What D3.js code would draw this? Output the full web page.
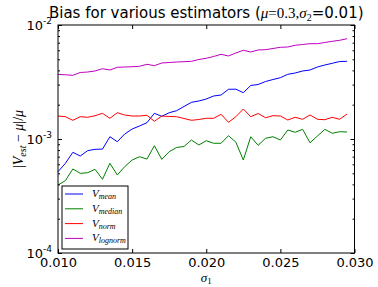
<!DOCTYPE html>
<html>
<head>
<meta charset="utf-8">
<script src="https://cdn.jsdelivr.net/npm/d3@7"></script>
<style>
  body { margin: 0; background: #fff; }
  svg { display: block; }
  text { font-family: "DejaVu Sans", sans-serif; }
  .math { font-family: "Liberation Serif", "DejaVu Serif", serif; }
</style>
</head>
<body>
<div id="chart"></div>
<script>
// sigma_1 values (x axis)
const sigma1 = [0.0100, 0.0105, 0.0110, 0.0115, 0.0120, 0.0125, 0.0130, 0.0135, 0.0140, 0.0145,
                0.0150, 0.0155, 0.0160, 0.0165, 0.0170, 0.0175, 0.0180, 0.0185, 0.0190, 0.0195,
                0.0200, 0.0205, 0.0210, 0.0215, 0.0220, 0.0225, 0.0230, 0.0235, 0.0240, 0.0245,
                0.0250, 0.0255, 0.0260, 0.0265, 0.0270, 0.0275, 0.0280, 0.0285, 0.0290, 0.0295];

// relative bias |V_est - mu| / mu for each estimator
const vMean = [5.17e-4, 6.12e-4, 7.64e-4, 7.09e-4, 7.90e-4, 8.12e-4, 8.15e-4, 1.047e-3, 9.47e-4, 1.106e-3,
               1.224e-3, 1.300e-3, 1.390e-3, 1.680e-3, 1.582e-3, 1.700e-3, 1.771e-3, 1.928e-3, 2.098e-3, 2.154e-3,
               2.243e-3, 2.384e-3, 2.432e-3, 2.729e-3, 2.735e-3, 2.548e-3, 2.947e-3, 3.007e-3, 3.193e-3, 3.325e-3,
               3.448e-3, 3.693e-3, 3.793e-3, 3.949e-3, 4.030e-3, 4.281e-3, 4.458e-3, 4.613e-3, 4.784e-3, 4.804e-3];

const vMedian = [3.95e-4, 4.31e-4, 5.46e-4, 5.00e-4, 5.06e-4, 5.42e-4, 4.43e-4, 6.12e-4, 4.83e-4, 5.72e-4,
                 6.54e-4, 6.99e-4, 6.67e-4, 8.73e-4, 6.63e-4, 7.74e-4, 8.42e-4, 8.60e-4, 9.80e-4, 8.86e-4,
                 9.66e-4, 9.17e-4, 9.17e-4, 1.069e-3, 9.36e-4, 6.54e-4, 1.047e-3, 8.80e-4, 1.014e-3, 1.047e-3,
                 9.80e-4, 1.199e-3, 1.145e-3, 1.216e-3, 9.28e-4, 1.062e-3, 1.216e-3, 1.122e-3, 1.159e-3, 1.152e-3];

const vNorm = [1.591e-3, 1.569e-3, 1.459e-3, 1.569e-3, 1.550e-3, 1.601e-3, 1.680e-3, 1.519e-3, 1.701e-3, 1.624e-3,
               1.591e-3, 1.591e-3, 1.614e-3, 1.430e-3, 1.591e-3, 1.576e-3, 1.569e-3, 1.513e-3, 1.459e-3, 1.483e-3,
               1.519e-3, 1.519e-3, 1.647e-3, 1.401e-3, 1.569e-3, 1.833e-3, 1.569e-3, 1.674e-3, 1.537e-3, 1.601e-3,
               1.591e-3, 1.468e-3, 1.550e-3, 1.489e-3, 1.624e-3, 1.489e-3, 1.477e-3, 1.550e-3, 1.489e-3, 1.657e-3];

const vLognorm = [3.693e-3, 3.657e-3, 3.620e-3, 3.831e-3, 3.870e-3, 3.949e-3, 4.137e-3, 4.030e-3, 4.255e-3, 4.281e-3,
                  4.307e-3, 4.342e-3, 4.521e-3, 4.395e-3, 4.642e-3, 4.689e-3, 4.736e-3, 4.765e-3, 4.804e-3, 4.982e-3,
                  5.104e-3, 5.293e-3, 5.534e-3, 5.347e-3, 5.681e-3, 6.000e-3, 5.797e-3, 6.036e-3, 6.073e-3, 6.222e-3,
                  6.374e-3, 6.412e-3, 6.636e-3, 6.744e-3, 6.855e-3, 6.855e-3, 7.023e-3, 7.195e-3, 7.342e-3, 7.583e-3];

const seriesNames = ["mean", "median", "norm", "lognorm"];
const seriesColors = ["#0000ff", "#008000", "#ff0000", "#bf00bf"];
const seriesValues = [vMean, vMedian, vNorm, vLognorm];

const xTicks = [0.010, 0.015, 0.020, 0.025, 0.030];
const yTicks = [1e-4, 1e-3, 1e-2];

const width = 378;
const height = 287;
const margin = { top: 25, right: 23.5, bottom: 34, left: 58 };

const svg = d3.select("#chart")
  .append("svg")
  .attr("width", width)
  .attr("height", height);

svg.append("rect").attr("width", width).attr("height", height).attr("fill", "#fff");

const x = d3.scaleLinear()
  .domain([0.010, 0.030])
  .range([margin.left, width - margin.right]);

const y = d3.scaleLog()
  .domain([1e-4, 1e-2])
  .range([height - margin.bottom, margin.top]);

const plotW = width - margin.left - margin.right;
const plotH = height - margin.top - margin.bottom;

// minor ticks on the log axis
const minorTicks = y.ticks().filter(t => !yTicks.some(m => Math.abs(m - t) / m < 1e-6));

// lines
const line = d3.line()
  .x((d, i) => x(sigma1[i]))
  .y(d => y(d));

svg.append("g")
  .selectAll("path")
  .data(seriesValues)
  .enter().append("path")
  .attr("d", d => line(d))
  .attr("fill", "none")
  .attr("stroke", (d, i) => seriesColors[i])
  .attr("stroke-width", 1);

// axes - ticks inside on all four sides
const xAxis = svg.append("g")
  .attr("transform", `translate(0,${height - margin.bottom})`)
  .call(d3.axisBottom(x).tickValues(xTicks).tickSize(-4).tickPadding(5).tickFormat(d3.format(".3f")));

svg.append("g")
  .attr("transform", `translate(0,${margin.top})`)
  .call(d3.axisTop(x).tickValues(xTicks).tickSize(-4).tickFormat(""));

svg.append("g")
  .attr("transform", `translate(${margin.left},0)`)
  .call(d3.axisLeft(y).tickValues(yTicks).tickSize(-4).tickFormat(""));

svg.append("g")
  .attr("transform", `translate(${margin.left},0)`)
  .call(d3.axisLeft(y).tickValues(minorTicks).tickSize(-2).tickFormat(""));

svg.append("g")
  .attr("transform", `translate(${width - margin.right},0)`)
  .call(d3.axisRight(y).tickValues(yTicks).tickSize(-4).tickFormat(""));

svg.append("g")
  .attr("transform", `translate(${width - margin.right},0)`)
  .call(d3.axisRight(y).tickValues(minorTicks).tickSize(-2).tickFormat(""));

svg.selectAll(".domain").remove();
svg.selectAll(".tick line").attr("stroke", "#000");

xAxis.selectAll("text")
  .attr("font-size", 13)
  .attr("font-family", "DejaVu Sans")
  .attr("fill", "#000");

// log tick labels 10^n
const yLab = svg.append("g");
yTicks.forEach(t => {
  const tx = yLab.append("text")
    .attr("x", margin.left - 6)
    .attr("y", y(t) + 5)
    .attr("text-anchor", "end")
    .attr("font-size", 13)
    .attr("fill", "#000");
  tx.append("tspan").text("10");
  tx.append("tspan")
    .attr("font-size", 9)
    .attr("dy", -6)
    .text(String(Math.round(Math.log10(t))));
});

// frame
svg.append("rect")
  .attr("x", margin.left)
  .attr("y", margin.top)
  .attr("width", plotW)
  .attr("height", plotH)
  .attr("fill", "none")
  .attr("stroke", "#000")
  .attr("stroke-width", 1);

// title
const title = svg.append("text")
  .attr("x", margin.left + plotW / 2)
  .attr("y", 18)
  .attr("text-anchor", "middle")
  .attr("font-size", 15)
  .attr("fill", "#000");
title.append("tspan").text("Bias for various estimators (");
title.append("tspan").attr("class", "math").attr("font-style", "italic").text("μ");
title.append("tspan").attr("class", "math").text("=0.3,");
title.append("tspan").attr("class", "math").attr("font-style", "italic").text("σ");
title.append("tspan").attr("class", "math").attr("font-size", 10).attr("dy", 3).text("2");
title.append("tspan").attr("dy", -3).text("=0.01)");

// x label
const xl = svg.append("text")
  .attr("class", "math")
  .attr("x", margin.left + plotW / 2)
  .attr("y", 282)
  .attr("text-anchor", "middle")
  .attr("font-size", 13)
  .attr("fill", "#000");
xl.append("tspan").attr("font-style", "italic").text("σ");
xl.append("tspan").attr("font-size", 9).attr("dy", 2).text("1");

// y label
const yl = svg.append("text")
  .attr("class", "math")
  .attr("transform", `translate(23,${margin.top + plotH / 2}) rotate(-90)`)
  .attr("text-anchor", "middle")
  .attr("font-size", 14)
  .attr("fill", "#000");
yl.append("tspan").text("|");
yl.append("tspan").attr("font-style", "italic").text("V");
yl.append("tspan").attr("font-style", "italic").attr("font-size", 10).attr("dy", 3).text("est");
yl.append("tspan").attr("dy", -3).text(" − ");
yl.append("tspan").attr("font-style", "italic").text("μ");
yl.append("tspan").text("|/");
yl.append("tspan").attr("font-style", "italic").text("μ");

// legend
const legend = svg.append("g").attr("transform", "translate(62,186)");
legend.append("rect")
  .attr("width", 66)
  .attr("height", 63)
  .attr("fill", "#fff")
  .attr("stroke", "#000")
  .attr("stroke-width", 1);

const entry = legend.selectAll("g.entry")
  .data(seriesNames)
  .enter().append("g")
  .attr("class", "entry")
  .attr("transform", (d, i) => `translate(0,${8 + i * 14.8})`);

entry.append("line")
  .attr("x1", 3).attr("x2", 21)
  .attr("stroke", (d, i) => seriesColors[i])
  .attr("stroke-width", 1);

const lt = entry.append("text")
  .attr("class", "math")
  .attr("x", 30)
  .attr("y", 3)
  .attr("font-size", 11)
  .attr("font-style", "italic")
  .attr("fill", "#000");
lt.append("tspan").text("V");
lt.append("tspan").attr("font-size", 8).attr("dy", 2).text(d => d);
</script>
</body>
</html>
